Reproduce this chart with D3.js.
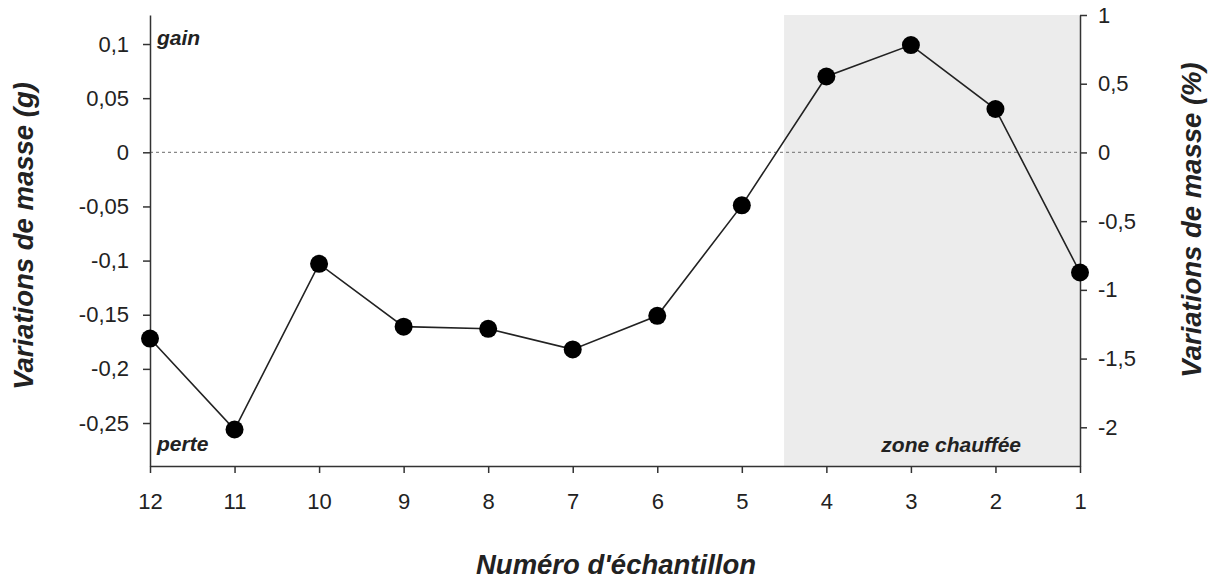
<!DOCTYPE html>
<html>
<head>
<meta charset="utf-8">
<script src="https://cdn.jsdelivr.net/npm/d3@7"></script>
<style>
  body { margin: 0; background: #fff; }
  svg { display: block; font-family: "Liberation Sans", Arial, sans-serif; }
  .axis path, .axis line { stroke: #333; stroke-width: 1.5px; }
  .axis text { font-size: 22px; fill: #222; }
  .title { font-size: 27.5px; font-weight: bold; font-style: italic; fill: #222; }
  .note { font-size: 21px; font-weight: bold; font-style: italic; fill: #222; }
</style>
</head>
<body>
<script>
'use strict';

// sample numbers, read right to left on the chart
var samples = [12, 11, 10, 9, 8, 7, 6, 5, 4, 3, 2, 1];
// mass change in grams
var massChange = [-0.172, -0.256, -0.103, -0.161, -0.163, -0.182, -0.151, -0.049, 0.070, 0.099, 0.040, -0.111];

var leftTicks = [0.1, 0.05, 0, -0.05, -0.1, -0.15, -0.2, -0.25];
var rightTicks = [1, 0.5, 0, -0.5, -1, -1.5, -2];

// heated zone spans from between 5 and 4 up to sample 1
var heatedZone = [4.5, 1];

var width = 1211;
var height = 579;

var fr = d3.formatLocale({
  decimal: ',',
  thousands: ' ',
  grouping: [3],
  currency: ['', ' €'],
  minus: '-'
});
var fmt = fr.format('~g');

var x = d3.scaleLinear().domain([12, 1]).range([150, 1080]);
var y = d3.scaleLinear().domain([-0.2897, 0.1268]).range([466, 15]);
var yPct = d3.scaleLinear().domain([-2.2816, 1]).range([466, 15]);

var svg = d3.select('body').append('svg')
  .attr('width', width)
  .attr('height', height);

// heated zone
svg.append('rect')
  .attr('x', x(heatedZone[0]))
  .attr('y', y.range()[1])
  .attr('width', x(heatedZone[1]) - x(heatedZone[0]))
  .attr('height', y.range()[0] - y.range()[1])
  .attr('fill', '#ececec');

// zero line
svg.append('line')
  .attr('x1', x.range()[0])
  .attr('x2', x.range()[1])
  .attr('y1', y(0))
  .attr('y2', y(0))
  .attr('stroke', '#888')
  .attr('stroke-width', 1.2)
  .attr('stroke-dasharray', '3,3');

svg.append('g')
  .attr('class', 'axis')
  .attr('transform', 'translate(0,' + y.range()[0] + ')')
  .call(d3.axisBottom(x).tickValues(samples).tickSize(7).tickSizeOuter(0).tickPadding(20));

svg.append('g')
  .attr('class', 'axis')
  .attr('transform', 'translate(' + x.range()[0] + ',0)')
  .call(d3.axisLeft(y).tickValues(leftTicks).tickFormat(fmt).tickSize(7).tickSizeOuter(0).tickPadding(14));

svg.append('g')
  .attr('class', 'axis')
  .attr('transform', 'translate(' + x.range()[1] + ',0)')
  .call(d3.axisRight(yPct).tickValues(rightTicks).tickFormat(fmt).tickSize(7).tickSizeOuter(0).tickPadding(11));

// line and markers
var points = samples.map(function(s, i) { return { s: s, v: massChange[i] }; });

var line = d3.line()
  .x(function(d) { return x(d.s); })
  .y(function(d) { return y(d.v); });

svg.append('path')
  .datum(points)
  .attr('d', line)
  .attr('fill', 'none')
  .attr('stroke', '#222')
  .attr('stroke-width', 1.6);

svg.selectAll('circle.pt')
  .data(points)
  .enter().append('circle')
  .attr('class', 'pt')
  .attr('cx', function(d) { return x(d.s); })
  .attr('cy', function(d) { return y(d.v); })
  .attr('r', 9)
  .attr('fill', '#000');

// annotations
svg.append('text').attr('class', 'note').attr('x', 157).attr('y', 45).text('gain');
svg.append('text').attr('class', 'note').attr('x', 157).attr('y', 451).text('perte');
svg.append('text').attr('class', 'note').attr('x', 1021).attr('y', 452)
  .attr('text-anchor', 'end').text('zone chauffée');

// axis titles
svg.append('text').attr('class', 'title')
  .attr('text-anchor', 'middle')
  .attr('x', 616).attr('y', 574)
  .text("Numéro d'échantillon");

svg.append('text').attr('class', 'title')
  .attr('text-anchor', 'middle')
  .attr('transform', 'translate(33,236) rotate(-90)')
  .text('Variations de masse (g)');

svg.append('text').attr('class', 'title')
  .attr('text-anchor', 'middle')
  .attr('transform', 'translate(1201,220) rotate(-90)')
  .text('Variations de masse (%)');
</script>
</body>
</html>
